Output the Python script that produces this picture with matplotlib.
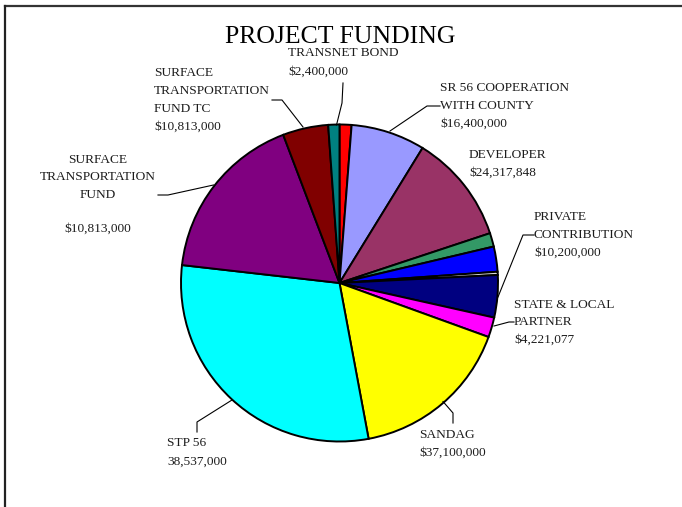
import matplotlib
matplotlib.use('Agg')
import matplotlib.pyplot as plt

# slice shares (percent of the pie), clockwise from 12 o'clock
slices = ['TRANSNET BOND red', 'SR 56 COOPERATION', 'DEVELOPER', 'green', 'blue', 'thin',
          'PRIVATE CONTRIBUTION', 'STATE & LOCAL PARTNER', 'SANDAG', 'STP 56',
          'SURFACE TRANSPORTATION FUND', 'SURFACE TRANSPORTATION FUND TC', 'teal']
shares = [1.22, 7.56, 11.14, 1.39, 2.56, 0.33, 4.31, 2.03, 16.53, 29.75, 17.42, 4.64, 1.14]
colors = ['#FF0000', '#9999FF', '#993366', '#339966', '#0000FF', '#D9D9D9', '#000080',
          '#FF00FF', '#FFFF00', '#00FFFF', '#800080', '#800000', '#008080']

# label texts as printed on the chart
label_lines = [
    ['TRANSNET BOND', '$2,400,000'],
    ['SURFACE', 'TRANSPORTATION', 'FUND TC', '$10,813,000'],
    ['SR 56 COOPERATION', 'WITH COUNTY', '$16,400,000'],
    ['DEVELOPER', '$24,317,848'],
    ['PRIVATE', 'CONTRIBUTION', '$10,200,000'],
    ['STATE & LOCAL', 'PARTNER', '$4,221,077'],
    ['SANDAG', '$37,100,000'],
    ['STP 56', '38,537,000'],
    ['SURFACE', 'TRANSPORTATION', 'FUND', '', '$10,813,000'],
]

W, H = 682, 507


def py(y):
    return H - y


fig = plt.figure(figsize=(W / 100, H / 100), dpi=100)
ax = fig.add_axes([0, 0, 1, 1])

ax.pie(shares, colors=colors, startangle=90, counterclock=False,
       center=(339.5, py(283)), radius=158.5,
       wedgeprops=dict(edgecolor='black', linewidth=1.4))
ax.set_xlim(0, W)
ax.set_ylim(0, H)
ax.set_aspect('equal')
ax.axis('off')

font = ['Liberation Serif', 'DejaVu Serif']
tc = '#1c1c1c'

ax.text(340, py(37), 'PROJECT FUNDING', ha='center', va='center',
        fontsize=18.5, family=font, color='black')

# label placement: x, y of first line, line step, alignment
places = [
    (288, 53, 18.5, 'left'),
    (154, 73.5, 17.7, 'left'),
    (440, 88, 17.7, 'left'),
    (469, 155, 18, 'left'),
    (534, 217.5, 17.5, 'left'),
    (514, 305, 17.3, 'left'),
    (419, 435, 17.3, 'left'),
    (167, 443.5, 18, 'left'),
    (98, 160, 17.3, 'center'),
]

for lines, (x, y0, step, ha) in zip(label_lines, places):
    for i, s in enumerate(lines):
        ax.text(x, py(y0 + i * step), s, ha=ha, va='center', fontsize=9.6,
                family=font, color=tc)

# leader lines
leaders = [
    [(343, 83), (342, 103), (336.5, 125)],
    [(272, 100), (282, 100), (303, 127)],
    [(440, 106), (427, 106), (390, 131)],
    [(534, 235), (523, 235), (498, 297)],
    [(514, 322), (509, 322), (494, 326)],
    [(453, 423), (453, 413), (443, 401.5)],
    [(197, 432), (197, 422), (232, 400)],
    [(158, 195), (168, 195), (213.5, 185)],
]
for pts in leaders:
    ax.plot([p[0] for p in pts], [py(p[1]) for p in pts], color='black', lw=0.8)

# frame lines at the top and left edge
ax.plot([5, W], [py(6), py(6)], color='#333333', lw=1.6)
ax.plot([5, 5], [py(6), 0], color='#222222', lw=1.6)

fig.savefig('out.png', dpi=100)
